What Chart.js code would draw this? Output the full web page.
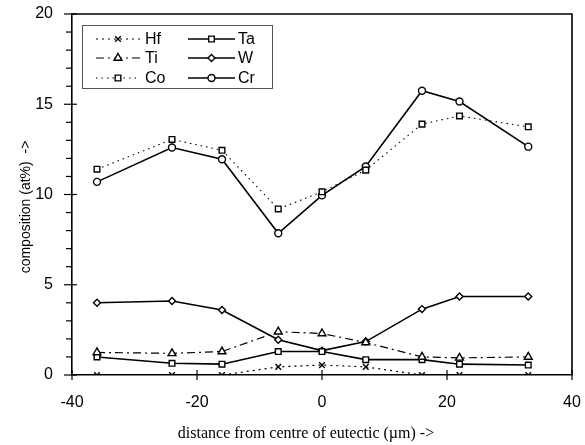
<!DOCTYPE html>
<html>
<head>
<meta charset="utf-8">
<script src="https://cdn.jsdelivr.net/npm/chart.js@4"></script>
<style>
    html, body { margin: 0; padding: 0; background: #fff; }
    #wrap { width: 585px; height: 445px; }
</style>
</head>
<body>
<div id="wrap"><canvas id="chart"></canvas></div>
<script>
// distance from centre of eutectic (um)
const distances = [-36, -24, -16, -7, 0, 7, 16, 22, 33];
// composition (at%)
const hf = [0, 0, 0, 0.45, 0.55, 0.45, 0, 0, 0];
const ti = [1.25, 1.2, 1.3, 2.4, 2.3, 1.8, 1.0, 0.95, 1.0];
const co = [11.4, 13.05, 12.45, 9.2, 10.15, 11.35, 13.9, 14.35, 13.75];
const ta = [1.0, 0.65, 0.6, 1.3, 1.3, 0.85, 0.85, 0.6, 0.55];
const w = [4.0, 4.1, 3.6, 1.95, 1.35, 1.85, 3.65, 4.35, 4.35];
const cr = [10.7, 12.6, 11.95, 7.85, 9.95, 11.55, 15.75, 15.15, 12.65];

const xTicks = [-40, -20, 0, 20, 40];
const yTicks = [0, 5, 10, 15, 20];

const xTitle = 'distance from centre of eutectic (\u00b5m) ->';
const yTitle = 'composition (at%)  ->';

const tickFont = '16px "Liberation Sans", Arial, sans-serif';
const toPoints = vals => vals.map((v, i) => ({ x: distances[i], y: v }));

function series(label, vals, style, dash, width, radius) {
    return {
        label: label,
        data: toPoints(vals),
        borderColor: '#000',
        backgroundColor: '#fff',
        borderWidth: width,
        borderDash: dash,
        pointStyle: style,
        pointRadius: radius,
        pointBorderColor: '#000',
        pointBackgroundColor: '#fff',
        pointBorderWidth: 1.4,
        tension: 0,
        fill: false
    };
}

// legend layout: two columns, three rows
const legendOrder = [
    { idx: 0, col: 0, row: 0 }, { idx: 1, col: 0, row: 1 }, { idx: 2, col: 0, row: 2 },
    { idx: 3, col: 1, row: 0 }, { idx: 4, col: 1, row: 1 }, { idx: 5, col: 1, row: 2 }
];

const framePlugin = {
    id: 'frame',
    afterDatasetsDraw(chart) {
        const ctx = chart.ctx;
        const a = chart.chartArea;
        const xs = chart.scales.x, ys = chart.scales.y;
        ctx.save();
        ctx.strokeStyle = '#000';
        ctx.lineWidth = 1.6;
        // top and right border
        ctx.beginPath();
        ctx.moveTo(a.left, a.top);
        ctx.lineTo(a.right, a.top);
        ctx.lineTo(a.right, a.bottom);
        ctx.stroke();
        // y ticks: major crossing, minor outside
        ctx.lineWidth = 1.2;
        for (let v = 0; v <= 20; v++) {
            const py = ys.getPixelForValue(v);
            ctx.beginPath();
            if (v % 5 === 0) { ctx.moveTo(a.left - 8, py); ctx.lineTo(a.left + 5, py); }
            else { ctx.moveTo(a.left - 6, py); ctx.lineTo(a.left, py); }
            ctx.stroke();
        }
        xTicks.forEach(v => {
            const px = xs.getPixelForValue(v);
            ctx.beginPath();
            ctx.moveTo(px, a.bottom - 5);
            ctx.lineTo(px, a.bottom + 5);
            ctx.stroke();
        });

        // tick labels
        ctx.fillStyle = '#000';
        ctx.font = tickFont;
        ctx.textBaseline = 'middle';
        ctx.textAlign = 'right';
        yTicks.forEach(v => ctx.fillText(String(v), a.left - 19, ys.getPixelForValue(v)));
        ctx.textAlign = 'center';
        xTicks.forEach(v => ctx.fillText(String(v), xs.getPixelForValue(v), a.bottom + 28));

        // x axis title
        ctx.font = '16px "Liberation Serif", "Times New Roman", serif';
        ctx.fillText(xTitle, 306, 434);

        // y axis title
        ctx.font = '14px "Liberation Sans", Arial, sans-serif';
        ctx.translate(26, 207);
        ctx.rotate(-Math.PI / 2);
        ctx.fillText(yTitle, 0, 0);
        ctx.restore();

        // legend box
        ctx.save();
        ctx.fillStyle = '#fff';
        ctx.fillRect(82, 25, 190, 63);
        ctx.strokeStyle = '#555';
        ctx.lineWidth = 1;
        ctx.strokeRect(82.5, 25.5, 190, 63);
        const cols = [{ x0: 96, x1: 140, tx: 145 }, { x0: 188, x1: 235, tx: 238 }];
        const rows = [39, 58, 78];
        ctx.font = '16px "Liberation Sans", Arial, sans-serif';
        ctx.textBaseline = 'middle';
        ctx.textAlign = 'left';
        legendOrder.forEach(it => {
            const ds = chart.data.datasets[it.idx];
            const c = cols[it.col], y = rows[it.row];
            ctx.strokeStyle = '#000';
            ctx.lineWidth = ds.borderWidth;
            ctx.setLineDash(ds.borderDash || []);
            ctx.beginPath();
            ctx.moveTo(c.x0, y);
            ctx.lineTo(c.x1, y);
            ctx.stroke();
            ctx.setLineDash([]);
            ctx.fillStyle = '#fff';
            ctx.lineWidth = ds.pointBorderWidth;
            Chart.helpers.drawPoint(ctx, {
                pointStyle: ds.pointStyle, radius: ds.pointRadius, rotation: 0, borderWidth: ds.pointBorderWidth
            }, (c.x0 + c.x1) / 2, y);
            ctx.fillStyle = '#000';
            ctx.fillText(ds.label, c.tx, y + 1);
        });
        ctx.restore();
    }
};

document.addEventListener('DOMContentLoaded', () => {
    const ctx = document.getElementById('chart').getContext('2d');
    new Chart(ctx, {
        type: 'line',
        data: {
            datasets: [
                series('Hf', hf, 'crossRot', [2, 4], 1.2, 4),
                series('Ti', ti, 'triangle', [8, 4, 2, 4], 1.2, 4.5),
                series('Co', co, 'rect', [1.5, 4], 1.1, 4),
                series('Ta', ta, 'rect', [], 1.6, 4),
                series('W', w, 'rectRot', [], 1.6, 3.5),
                series('Cr', cr, 'circle', [], 1.6, 3.5)
            ]
        },
        options: {
            responsive: true,
            maintainAspectRatio: false,
            animation: false,
            layout: { padding: { top: 14, right: 13, left: 0, bottom: 0 } },
            plugins: {
                legend: { display: false },
                tooltip: { enabled: false }
            },
            scales: {
                x: {
                    type: 'linear',
                    min: -40,
                    max: 40,
                    afterFit: s => { s.height = 70; },
                    afterBuildTicks: s => { s.ticks = xTicks.map(v => ({ value: v })); },
                    grid: { display: false, drawTicks: false },
                    border: { display: true, color: '#000', width: 1.6 },
                    ticks: { display: false }
                },
                y: {
                    min: 0,
                    max: 20,
                    afterFit: s => { s.width = 72; },
                    afterBuildTicks: s => { s.ticks = yTicks.map(v => ({ value: v })); },
                    grid: { display: false, drawTicks: false },
                    border: { display: true, color: '#000', width: 1.6 },
                    ticks: { display: false }
                }
            }
        },
        plugins: [framePlugin]
    });
});
</script>
</body>
</html>
